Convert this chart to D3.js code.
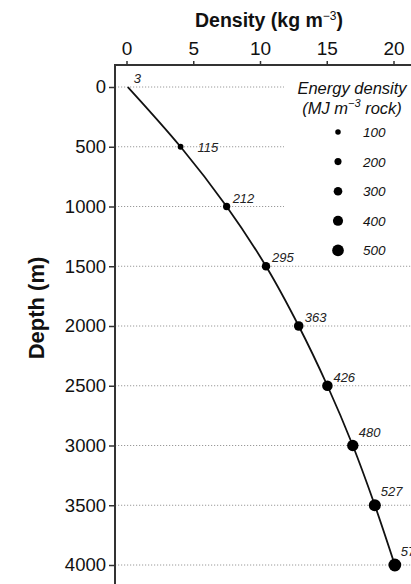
<!DOCTYPE html>
<html>
<head>
<meta charset="utf-8">
<script src="https://cdn.jsdelivr.net/npm/d3@7"></script>
<style>
  body { margin: 0; background: #fff; }
  svg { display: block; font-family: Arial, "Liberation Sans", sans-serif; }
</style>
</head>
<body>
<svg></svg>
<script>
document.addEventListener('DOMContentLoaded', function() {
  const width = 411;
  const height = 584;

  // data
  const depths = [0, 500, 1000, 1500, 2000, 2500, 3000, 3500, 4000];
  const densities = [0.1, 4.05, 7.5, 10.45, 12.9, 15.05, 16.95, 18.6, 20.1];
  const energies = [3, 115, 212, 295, 363, 426, 480, 527, 571];
  const xTicks = [0, 5, 10, 15, 20];
  const yTicks = [0, 500, 1000, 1500, 2000, 2500, 3000, 3500, 4000];
  const legendValues = [100, 200, 300, 400, 500];

  const points = depths.map((d, i) => ({ depth: d, density: densities[i], energy: energies[i] }));

  const svg = d3.select('svg')
    .attr('width', width)
    .attr('height', height);

  const x = d3.scaleLinear().domain([0, 20]).range([126.5, 393.5]);
  const y = d3.scaleLinear().domain([0, 4000]).range([87, 565]);
  const r = d3.scaleLinear().domain([0, 600]).range([2, 6.6]);

  const axisLeft = 115;
  const axisTop = 65;

  // dotted grid lines (first three stop short of the legend)
  svg.append('g')
    .selectAll('line')
    .data(yTicks)
    .enter().append('line')
    .attr('x1', axisLeft)
    .attr('x2', d => d <= 1000 ? 284 : width)
    .attr('y1', d => y(d))
    .attr('y2', d => y(d))
    .attr('stroke', '#9a9a9a')
    .attr('stroke-width', 1)
    .attr('stroke-dasharray', '1.2,1.8');

  // top axis
  const xAxis = svg.append('g')
    .attr('transform', `translate(0,${axisTop})`)
    .call(d3.axisTop(x).tickValues(xTicks).tickFormat(d3.format('d')).tickSize(4).tickPadding(6));
  xAxis.select('.domain').remove();
  xAxis.append('line')
    .attr('x1', axisLeft - 1).attr('x2', width)
    .attr('stroke', '#333').attr('stroke-width', 2);
  xAxis.selectAll('.tick line').attr('stroke', '#333').attr('stroke-width', 1.5);
  xAxis.selectAll('.tick text')
    .attr('fill', '#111')
    .style('font-size', '19px')
    .style('font-family', 'Arial, "Liberation Sans", sans-serif');

  // left axis
  const yAxis = svg.append('g')
    .attr('transform', `translate(${axisLeft},0)`)
    .call(d3.axisLeft(y).tickValues(yTicks).tickFormat(d3.format('d')).tickSize(6).tickPadding(3));
  yAxis.select('.domain').remove();
  yAxis.append('line')
    .attr('y1', axisTop - 1).attr('y2', height)
    .attr('stroke', '#333').attr('stroke-width', 2);
  yAxis.selectAll('.tick line').attr('stroke', '#333').attr('stroke-width', 1.5);
  yAxis.selectAll('.tick text')
    .attr('fill', '#111')
    .style('font-size', '18.5px')
    .style('font-family', 'Arial, "Liberation Sans", sans-serif');

  // axis titles
  const title = svg.append('text')
    .attr('x', 269)
    .attr('y', 27)
    .attr('text-anchor', 'middle')
    .attr('font-weight', 'bold')
    .attr('font-size', 19.5)
    .attr('fill', '#111');
  title.append('tspan').text('Density (kg m');
  title.append('tspan').attr('dy', -7).attr('font-size', 12).attr('font-weight', 'normal').text('\u22123');
  title.append('tspan').attr('dy', 7).text(')');

  svg.append('text')
    .attr('transform', 'translate(44,308) rotate(-90)')
    .attr('text-anchor', 'middle')
    .attr('font-weight', 'bold')
    .attr('font-size', 22)
    .attr('fill', '#111')
    .text('Depth (m)');

  // curve
  const line = d3.line()
    .x(d => x(d.density))
    .y(d => y(d.depth))
    .curve(d3.curveMonotoneY);

  svg.append('path')
    .datum(points)
    .attr('fill', 'none')
    .attr('stroke', '#111')
    .attr('stroke-width', 1.8)
    .attr('d', line);

  svg.append('g')
    .selectAll('circle')
    .data(points.slice(1))
    .enter().append('circle')
    .attr('cx', d => x(d.density))
    .attr('cy', d => y(d.depth))
    .attr('r', d => r(d.energy))
    .attr('fill', '#000');

  svg.append('g')
    .selectAll('text')
    .data(points)
    .enter().append('text')
    .attr('x', d => x(d.density) + (d.depth === 500 ? 17 : 6))
    .attr('y', d => y(d.depth) + (d.depth === 500 ? 5 : d.depth >= 3000 ? -9 : -4))
    .attr('font-size', 13)
    .attr('font-style', 'italic')
    .attr('fill', '#222')
    .text(d => d.energy);

  // legend
  const legend = svg.append('g');
  legend.append('text')
    .attr('x', 352).attr('y', 94)
    .attr('text-anchor', 'middle')
    .attr('font-size', 16.5).attr('font-style', 'italic').attr('fill', '#111')
    .text('Energy density');
  const sub = legend.append('text')
    .attr('x', 352).attr('y', 114)
    .attr('text-anchor', 'middle')
    .attr('font-size', 16.5).attr('font-style', 'italic').attr('fill', '#111');
  sub.append('tspan').text('(MJ m');
  sub.append('tspan').attr('dy', -7).attr('font-size', 11).text('\u22123');
  sub.append('tspan').attr('dy', 7).text(' rock)');

  const items = legend.selectAll('g.item')
    .data(legendValues)
    .enter().append('g')
    .attr('class', 'item')
    .attr('transform', (d, i) => `translate(338,${132 + i * 29.6})`);
  items.append('circle')
    .attr('r', d => r(d))
    .attr('fill', '#000');
  items.append('text')
    .attr('x', 25).attr('y', 5)
    .attr('font-size', 13.5).attr('font-style', 'italic').attr('fill', '#111')
    .text(d => d);
});
</script>
</body>
</html>
